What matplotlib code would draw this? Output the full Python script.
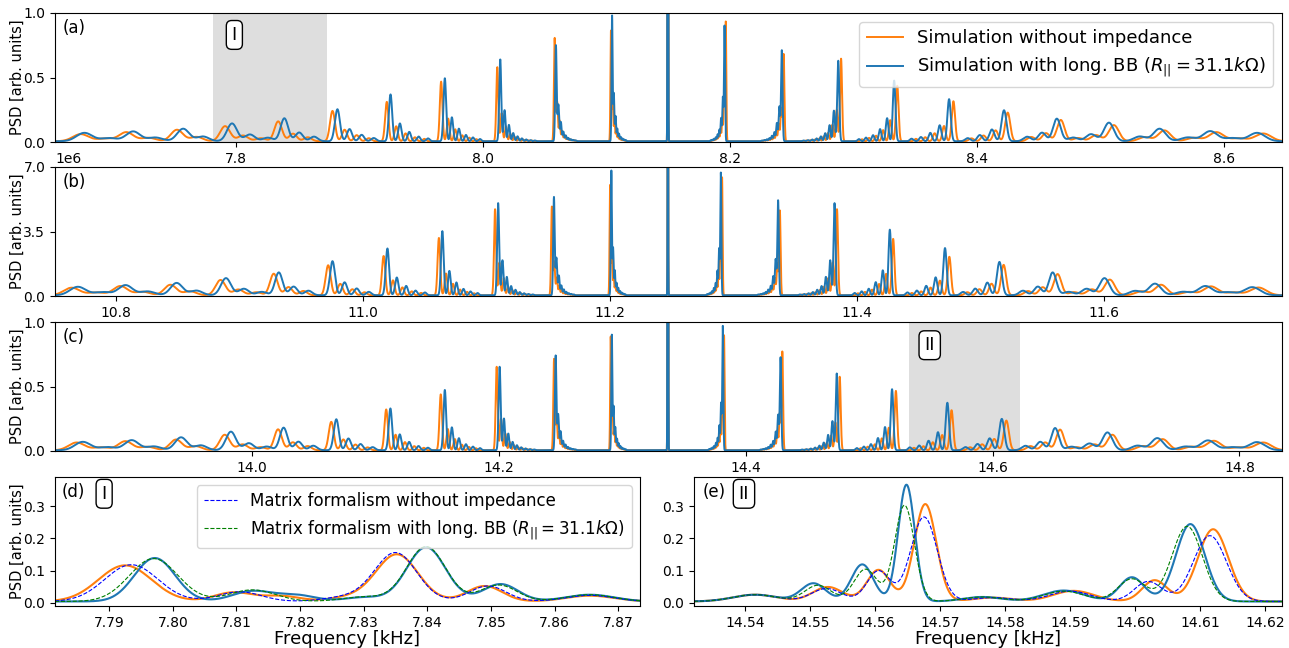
import numpy as np
import matplotlib
matplotlib.use("Agg")
import matplotlib.pyplot as plt
from matplotlib.ticker import MultipleLocator, FormatStrFormatter

# ----------------------------------------------------------------------
# Overview panels: carrier line and synchrotron sidebands (kHz)
# lower sidebands listed outer -> inner (k=-11..-1), upper inner -> outer (k=1..11)
a_centre = 8.1497
a_or_lo_f = [7.674, 7.711, 7.752, 7.791, 7.834, 7.878, 7.922, 7.966, 8.0115, 8.058, 8.1036]
a_or_lo_h = [0.055, 0.070, 0.089, 0.117, 0.154, 0.235, 0.305, 0.462, 0.574, 0.800, 0.857]
a_bl_lo_f = [7.677, 7.7165, 7.757, 7.7966, 7.839, 7.882, 7.925, 7.969, 8.0139, 8.059, 8.1045]
a_bl_lo_h = [0.065, 0.076, 0.097, 0.138, 0.178, 0.248, 0.363, 0.488, 0.634, 0.744, 0.974]
a_or_hi_f = [8.1966, 8.2435, 8.290, 8.3355, 8.381, 8.425, 8.468, 8.511, 8.552, 8.594, 8.632]
a_or_hi_h = [0.927, 0.676, 0.640, 0.430, 0.310, 0.222, 0.165, 0.125, 0.084, 0.070, 0.060]
a_bl_hi_f = [8.1956, 8.242, 8.2877, 8.333, 8.3775, 8.422, 8.4648, 8.507, 8.548, 8.589, 8.627]
a_bl_hi_h = [0.896, 0.705, 0.624, 0.470, 0.326, 0.240, 0.175, 0.144, 0.097, 0.078, 0.065]

b_centre = 11.247
b_or_lo_f = [10.764, 10.8035, 10.844, 10.8846, 10.9277, 10.9718, 11.0167, 11.0615, 11.107, 11.153, 11.2002]
b_or_lo_h = [0.41, 0.50, 0.57, 0.83, 1.17, 1.63, 2.13, 3.11, 4.67, 4.81, 5.98]
b_bl_lo_f = [10.769, 10.8076, 10.849, 10.889, 10.9318, 10.9753, 11.0198, 11.0643, 11.1095, 11.1547, 11.2012]
b_bl_lo_h = [0.46, 0.55, 0.67, 0.93, 1.24, 1.85, 2.54, 3.48, 5.00, 5.33, 6.76]
b_or_hi_f = [11.2909, 11.3377, 11.384, 11.4295, 11.475, 11.519, 11.5627, 11.605, 11.6465, 11.6869, 11.7254]
b_or_hi_h = [6.39, 4.60, 4.67, 3.06, 2.09, 1.65, 1.15, 0.85, 0.57, 0.48, 0.42]
b_bl_hi_f = [11.2899, 11.3363, 11.382, 11.4268, 11.4715, 11.5156, 11.5587, 11.6007, 11.6416, 11.6824, 11.7204]
b_bl_hi_h = [6.65, 5.15, 5.00, 3.56, 2.56, 1.81, 1.24, 0.93, 0.63, 0.50, 0.44]

c_centre = 14.337
c_or_lo_f = [13.858, 13.8975, 13.9385, 13.978, 14.0212, 14.0643, 14.1088, 14.153, 14.1983, 14.2448, 14.2907]
c_or_lo_h = [0.060, 0.070, 0.083, 0.120, 0.162, 0.220, 0.316, 0.433, 0.647, 0.708, 0.880]
c_bl_lo_f = [13.863, 13.9026, 13.9426, 13.983, 14.0257, 14.0684, 14.1122, 14.1563, 14.2007, 14.2461, 14.2916]
c_bl_lo_h = [0.065, 0.078, 0.100, 0.144, 0.175, 0.240, 0.324, 0.467, 0.647, 0.734, 0.895]
c_or_hi_f = [14.3825, 14.4297, 14.4762, 14.5217, 14.5668, 14.6112, 14.6547, 14.6971, 14.7378, 14.7793, 14.8193]
c_or_hi_h = [0.890, 0.765, 0.570, 0.460, 0.310, 0.230, 0.160, 0.120, 0.086, 0.073, 0.060]
c_bl_hi_f = [14.3815, 14.4283, 14.4738, 14.5186, 14.5634, 14.6075, 14.6507, 14.6931, 14.7335, 14.7745, 14.8142]
c_bl_hi_h = [0.963, 0.720, 0.595, 0.473, 0.368, 0.243, 0.172, 0.138, 0.094, 0.076, 0.063]

# line width (FWHM), satellite spacing per |k| and satellite height ratios
sb_fwhm = [0.0010, 0.0014, 0.0019, 0.0025, 0.0032, 0.0048, 0.0072, 0.0095, 0.0115, 0.0135, 0.0150]
sub_gap = [0.0014, 0.0020, 0.0035, 0.0057, 0.0076, 0.0098, 0.0120, 0.0145, 0.0160, 0.0180, 0.0200]
sub_ratio = [0.38, 0.20, 0.10, 0.06, 0.035, 0.022, 0.014, 0.009]

# ----------------------------------------------------------------------
# Zoomed panels: peaks of each curve (centre kHz, height, FWHM kHz)
d_or_f = [7.7925, 7.8095, 7.8170, 7.8275, 7.8352, 7.8490, 7.8655]
d_or_h = [0.112, 0.028, 0.017, 0.012, 0.146, 0.048, 0.018]
d_or_w = [0.0098, 0.0070, 0.0070, 0.0070, 0.0078, 0.0065, 0.0090]
d_bl_f = [7.7960, 7.7985, 7.8125, 7.8195, 7.8300, 7.8398, 7.8515, 7.8655]
d_bl_h = [0.078, 0.070, 0.032, 0.019, 0.013, 0.168, 0.054, 0.021]
d_bl_w = [0.0068, 0.0068, 0.0075, 0.0070, 0.0070, 0.0072, 0.0065, 0.0090]
d_mb_f = [7.7935, 7.8105, 7.8270, 7.8350, 7.8495, 7.8655]
d_mb_h = [0.114, 0.030, 0.013, 0.151, 0.048, 0.019]
d_mb_w = [0.0098, 0.0080, 0.0080, 0.0078, 0.0068, 0.0090]
d_mg_f = [7.7970, 7.8125, 7.8300, 7.8398, 7.8512, 7.8655]
d_mg_h = [0.133, 0.036, 0.014, 0.170, 0.051, 0.021]
d_mg_w = [0.0090, 0.0085, 0.0080, 0.0072, 0.0068, 0.0090]

e_or_f = [14.5415, 14.5527, 14.5605, 14.5677, 14.5780, 14.5905, 14.6030, 14.6120]
e_or_h = [0.021, 0.045, 0.098, 0.302, 0.012, 0.033, 0.066, 0.224]
e_or_w = [0.0080, 0.0055, 0.0042, 0.0040, 0.0070, 0.0075, 0.0045, 0.0055]
e_bl_f = [14.5415, 14.5505, 14.5580, 14.5648, 14.5765, 14.5890, 14.5995, 14.6085]
e_bl_h = [0.021, 0.056, 0.115, 0.362, 0.014, 0.034, 0.075, 0.240]
e_bl_w = [0.0080, 0.0045, 0.0040, 0.0030, 0.0070, 0.0075, 0.0045, 0.0052]
e_mb_f = [14.5415, 14.5525, 14.5605, 14.5675, 14.5780, 14.5900, 14.6020, 14.6115]
e_mb_h = [0.021, 0.040, 0.095, 0.262, 0.012, 0.032, 0.062, 0.204]
e_mb_w = [0.0080, 0.0055, 0.0042, 0.0048, 0.0070, 0.0075, 0.0050, 0.0060]
e_mg_f = [14.5415, 14.5512, 14.5585, 14.5645, 14.5765, 14.5890, 14.5995, 14.6080]
e_mg_h = [0.021, 0.050, 0.100, 0.298, 0.014, 0.032, 0.070, 0.233]
e_mg_w = [0.0080, 0.0048, 0.0042, 0.0036, 0.0070, 0.0075, 0.0050, 0.0055]

zoom_I = (7.7815, 7.8734)
zoom_II = (14.5321, 14.6226)

C_OR = "#ff7f0e"
C_BL = "#1f77b4"


#-----------------------------------------------------------------------
def line_shape(x, centres, heights, fwhm, floor=0.0):
    """ Sum of gaussian lines on a flat floor. """
    y = np.full_like(x, floor)
    for c, h, w in zip(centres, heights, fwhm):
        s = w / 2.3548
        y += h * np.exp(-0.5 * ((x - c) / s) ** 2)
    return y


def sideband_lines(centre, lo_f, lo_h, hi_f, hi_h, carrier_h):
    """ Expand the sideband lists into lines incl. the small satellites
        that trail towards the carrier. """
    cen, hgt, wid = [centre], [carrier_h], [0.0005]
    for f_list, h_list, side in ((lo_f[::-1], lo_h[::-1], 1), (hi_f, hi_h, -1)):
        prev = centre
        for i, (f, h) in enumerate(zip(f_list, h_list)):
            cen.append(f); hgt.append(h); wid.append(sb_fwhm[i])
            room = 0.75 * abs(f - prev)
            for j, r in enumerate(sub_ratio):
                off = (j + 1) * sub_gap[i]
                if off > room:
                    break
                cen.append(f + side * off); hgt.append(h * r); wid.append(sb_fwhm[i])
            prev = f
    return cen, hgt, wid


def overview(ax, centre, lo, hi, scale, floor):
    xlim = (centre - 0.4965, centre + 0.4975)
    x = np.linspace(xlim[0], xlim[1], 30000)
    cen, hgt, wid = sideband_lines(centre, lo[0], lo[1], hi[0], hi[1], 30.0)
    y_or = line_shape(x, cen, np.array(hgt) * scale, wid, floor)
    cen, hgt, wid = sideband_lines(centre, lo[2], lo[3], hi[2], hi[3], 30.0)
    y_bl = line_shape(x, cen, np.array(hgt) * scale, wid, floor)
    l1, = ax.plot(x, y_or, color=C_OR, lw=1.4, label="Simulation without impedance")
    l2, = ax.plot(x, y_bl, color=C_BL, lw=1.4,
                  label=r"Simulation with long. BB ($R_{||} = 31.1k\Omega$)")
    ax.set_xlim(xlim)
    ax.xaxis.set_major_locator(MultipleLocator(0.2))
    ax.xaxis.set_major_formatter(FormatStrFormatter('%.1f'))
    ax.set_ylabel("PSD [arb. units]", fontsize=10.5, labelpad=-1)
    return l1, l2


def roman_box(ax, x, y, text, transform):
    ax.text(x, y, text, transform=transform, fontsize=13, ha='center', va='center',
            bbox=dict(boxstyle='round,pad=0.3', fc='white', ec='black', lw=1.0))


#-----------------------------------------------------------------------
plt.rcParams['xtick.labelsize'] = 10
plt.rcParams['ytick.labelsize'] = 10

fig = plt.figure(figsize=(12.89, 6.48), dpi=100)
W, H = 1289.0, 648.0
ax_a = fig.add_axes([55 / W, 1 - 142 / H, 1227 / W, 129 / H])
ax_b = fig.add_axes([55 / W, 1 - 296 / H, 1227 / W, 129 / H])
ax_c = fig.add_axes([55 / W, 1 - 451 / H, 1227 / W, 129 / H])
ax_d = fig.add_axes([55 / W, 1 - 606 / H, 585 / W, 129 / H])
ax_e = fig.add_axes([694 / W, 1 - 606 / H, 588 / W, 129 / H])

# (a)
l1, l2 = overview(ax_a, a_centre, (a_or_lo_f, a_or_lo_h, a_bl_lo_f, a_bl_lo_h),
                  (a_or_hi_f, a_or_hi_h, a_bl_hi_f, a_bl_hi_h), 1.0, 0.006)
ax_a.set_ylim(0, 1.0)
ax_a.set_yticks([0, 0.5, 1.0])
ax_a.axvspan(zoom_I[0], zoom_I[1], color='#dedede', zorder=0, lw=0)
roman_box(ax_a, zoom_I[0] + 0.017, 0.83, "I", ax_a.get_xaxis_transform())
ax_a.legend(handles=[l1, l2], loc='upper right', fontsize=13)

# (b)
overview(ax_b, b_centre, (b_or_lo_f, b_or_lo_h, b_bl_lo_f, b_bl_lo_h),
         (b_or_hi_f, b_or_hi_h, b_bl_hi_f, b_bl_hi_h), 1e6, 0.04e6)
ax_b.set_ylim(0, 7e6)
ax_b.set_yticks([0, 3.5e6, 7e6])

# (c)
overview(ax_c, c_centre, (c_or_lo_f, c_or_lo_h, c_bl_lo_f, c_bl_lo_h),
         (c_or_hi_f, c_or_hi_h, c_bl_hi_f, c_bl_hi_h), 1.0, 0.006)
ax_c.set_ylim(0, 1.0)
ax_c.set_yticks([0, 0.5, 1.0])
ax_c.axvspan(zoom_II[0], zoom_II[1], color='#dedede', zorder=0, lw=0)
roman_box(ax_c, zoom_II[0] + 0.017, 0.82, "II", ax_c.get_xaxis_transform())

# (d) and (e) zooms with matrix formalism overlay
for ax, rng, sets in ((ax_d, zoom_I, ((d_or_f, d_or_h, d_or_w), (d_bl_f, d_bl_h, d_bl_w),
                                      (d_mb_f, d_mb_h, d_mb_w), (d_mg_f, d_mg_h, d_mg_w))),
                      (ax_e, zoom_II, ((e_or_f, e_or_h, e_or_w), (e_bl_f, e_bl_h, e_bl_w),
                                       (e_mb_f, e_mb_h, e_mb_w), (e_mg_f, e_mg_h, e_mg_w)))):
    x = np.linspace(rng[0], rng[1], 3000)
    ax.plot(x, line_shape(x, *sets[0], floor=0.004), color=C_OR, lw=1.5)
    ax.plot(x, line_shape(x, *sets[1], floor=0.004), color=C_BL, lw=1.5)
    m1, = ax.plot(x, line_shape(x, *sets[2], floor=0.004), color='b', ls='--', lw=0.8,
                  label="Matrix formalism without impedance")
    m2, = ax.plot(x, line_shape(x, *sets[3], floor=0.004), color='g', ls='--', lw=0.8,
                  label=r"Matrix formalism with long. BB ($R_{||} = 31.1k\Omega$)")
    ax.set_xlim(rng)
    ax.set_ylim(-0.01, 0.39)
    ax.set_yticks([0, 0.1, 0.2, 0.3])
    ax.xaxis.set_major_locator(MultipleLocator(0.01))
    ax.xaxis.set_major_formatter(FormatStrFormatter('%.2f'))
    ax.set_xlabel("Frequency [kHz]", fontsize=13, labelpad=0)

ax_d.set_ylabel("PSD [arb. units]", fontsize=10.5, labelpad=-1)
ax_d.legend(handles=[m1, m2], loc='upper right', fontsize=12)

# panel letters
for ax, lab, xf in ((ax_a, "(a)", 0.006), (ax_b, "(b)", 0.006), (ax_c, "(c)", 0.006),
                    (ax_d, "(d)", 0.012), (ax_e, "(e)", 0.014)):
    ax.text(xf, 0.885, lab, transform=ax.transAxes, fontsize=12, ha='left', va='center')
roman_box(ax_d, 0.084, 0.87, "I", ax_d.transAxes)
roman_box(ax_e, 0.085, 0.87, "II", ax_e.transAxes)

fig.savefig("out.png", dpi=100)
